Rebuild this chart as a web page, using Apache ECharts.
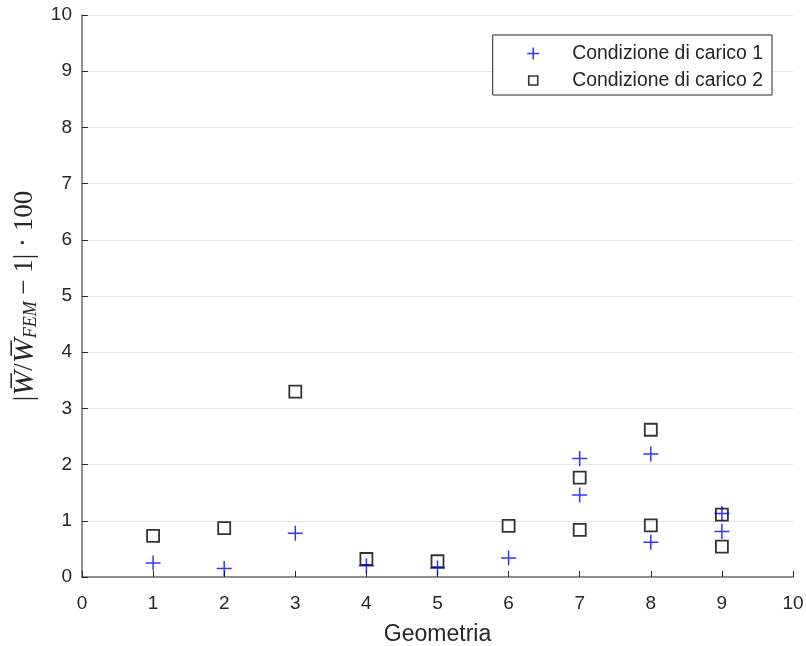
<!DOCTYPE html>
<html>
<head>
<meta charset="utf-8">
<script src="https://cdn.jsdelivr.net/npm/echarts@6/dist/echarts.min.js"></script>
<style>
  html, body { margin: 0; padding: 0; background: #fff; }
  #chart { width: 806px; height: 646px; }
</style>
</head>
<body>
<div id="chart"></div>
<script>
// Condizione di carico 1 (croci blu)
const geomCarico1 = [1, 2, 3, 4, 5, 6, 7, 7, 8, 8, 9, 9];
const errCarico1 = [0.25, 0.15, 0.78, 0.2, 0.16, 0.34, 2.11, 1.46, 2.19, 0.62, 1.13, 0.81];
// Condizione di carico 2 (quadrati neri)
const geomCarico2 = [1, 2, 3, 4, 5, 6, 7, 7, 8, 8, 9, 9];
const errCarico2 = [0.73, 0.87, 3.30, 0.32, 0.28, 0.91, 1.77, 0.84, 2.62, 0.92, 1.11, 0.54];
const xTicks = [0, 1, 2, 3, 4, 5, 6, 7, 8, 9, 10];
const yTicks = [0, 1, 2, 3, 4, 5, 6, 7, 8, 9, 10];

const plusPath = 'path://M0,5L10,5M5,0L5,10';
// quadrato più piccolo per la legenda (punti vuoti agli angoli per il riquadro)
const smallRectPath = 'path://M0,0L0,0M14,12L14,12M2.5,1.5L11.5,1.5L11.5,10.5L2.5,10.5Z';
const font = 'Liberation Sans, Arial, sans-serif';
const serif = 'Liberation Serif, DejaVu Serif, serif';

const chart = echarts.init(document.getElementById('chart'));

const toPairs = (xs, ys) => xs.map((x, i) => [x, ys[i]]);

const option = {
  animation: false,
  grid: { left: 82, right: 13, top: 15, bottom: 69, outerBoundsMode: 'none' },
  legend: {
    orient: 'vertical',
    right: 34,
    top: 35,
    backgroundColor: '#fff',
    borderColor: '#262626',
    borderWidth: 1,
    borderRadius: 0,
    padding: [9, 9, 5, 32],
    itemGap: 8,
    itemWidth: 14,
    itemHeight: 12,
    textStyle: { fontFamily: font, fontSize: 19.4, color: '#262626', padding: [0, 0, 0, 27] },
    data: [
      { name: 'Condizione di carico 1', icon: plusPath,
        itemStyle: { color: 'none', borderColor: '#0000ff', borderWidth: 1.5 } },
      { name: 'Condizione di carico 2', icon: smallRectPath,
        itemStyle: { color: '#fff', borderColor: '#000', borderWidth: 1.6 } }
    ]
  },
  xAxis: {
    type: 'value',
    min: xTicks[0],
    max: xTicks[xTicks.length - 1],
    interval: 1,
    name: 'Geometria',
    nameLocation: 'middle',
    nameGap: 46,
    nameTextStyle: { fontFamily: font, fontSize: 23, color: '#262626' },
    axisLine: { show: true, lineStyle: { color: '#6e6e6e', width: 1.5 } },
    axisTick: { show: true, inside: true, length: 6, lineStyle: { color: '#262626' } },
    axisLabel: { fontFamily: font, fontSize: 19, color: '#262626', margin: 17 },
    splitLine: { show: false }
  },
  yAxis: {
    type: 'value',
    min: yTicks[0],
    max: yTicks[yTicks.length - 1],
    interval: 1,
    name: '|{ov|W̅}/{ov|W̅}{sub|FEM} − 1| · 100',
    nameLocation: 'middle',
    nameRotate: 90,
    nameGap: 38,
    nameTextStyle: {
      fontFamily: serif,
      fontSize: 27,
      color: '#262626',
      rich: {
        ov: { fontFamily: serif, fontStyle: 'italic', fontSize: 30, color: '#262626' },
        sub: { fontFamily: serif, fontStyle: 'italic', fontSize: 18,
               color: '#262626', verticalAlign: 'bottom', padding: [10, 0, 0, 0] }
      }
    },
    axisLine: { show: true, lineStyle: { color: '#6e6e6e', width: 1.5 } },
    axisTick: { show: true, inside: true, length: 6, lineStyle: { color: '#262626' } },
    axisLabel: { fontFamily: font, fontSize: 19, color: '#262626', margin: 10 },
    splitLine: { show: true, lineStyle: { color: '#e6e6e6', width: 1.2 } }
  },
  series: [
    {
      name: 'Condizione di carico 1',
      type: 'scatter',
      symbol: plusPath,
      symbolSize: 15,
      z: 3,
      itemStyle: { color: 'none', borderColor: '#0000ff', borderWidth: 1.5 },
      data: toPairs(geomCarico1, errCarico1)
    },
    {
      name: 'Condizione di carico 2',
      type: 'scatter',
      symbol: 'rect',
      symbolSize: 12,
      z: 2,
      itemStyle: { color: 'rgba(255,255,255,0)', borderColor: '#000', borderWidth: 1.8 },
      data: toPairs(geomCarico2, errCarico2)
    }
  ]
};

chart.setOption(option);
window.addEventListener('resize', () => {
  chart.resize();
});
</script>
</body>
</html>
